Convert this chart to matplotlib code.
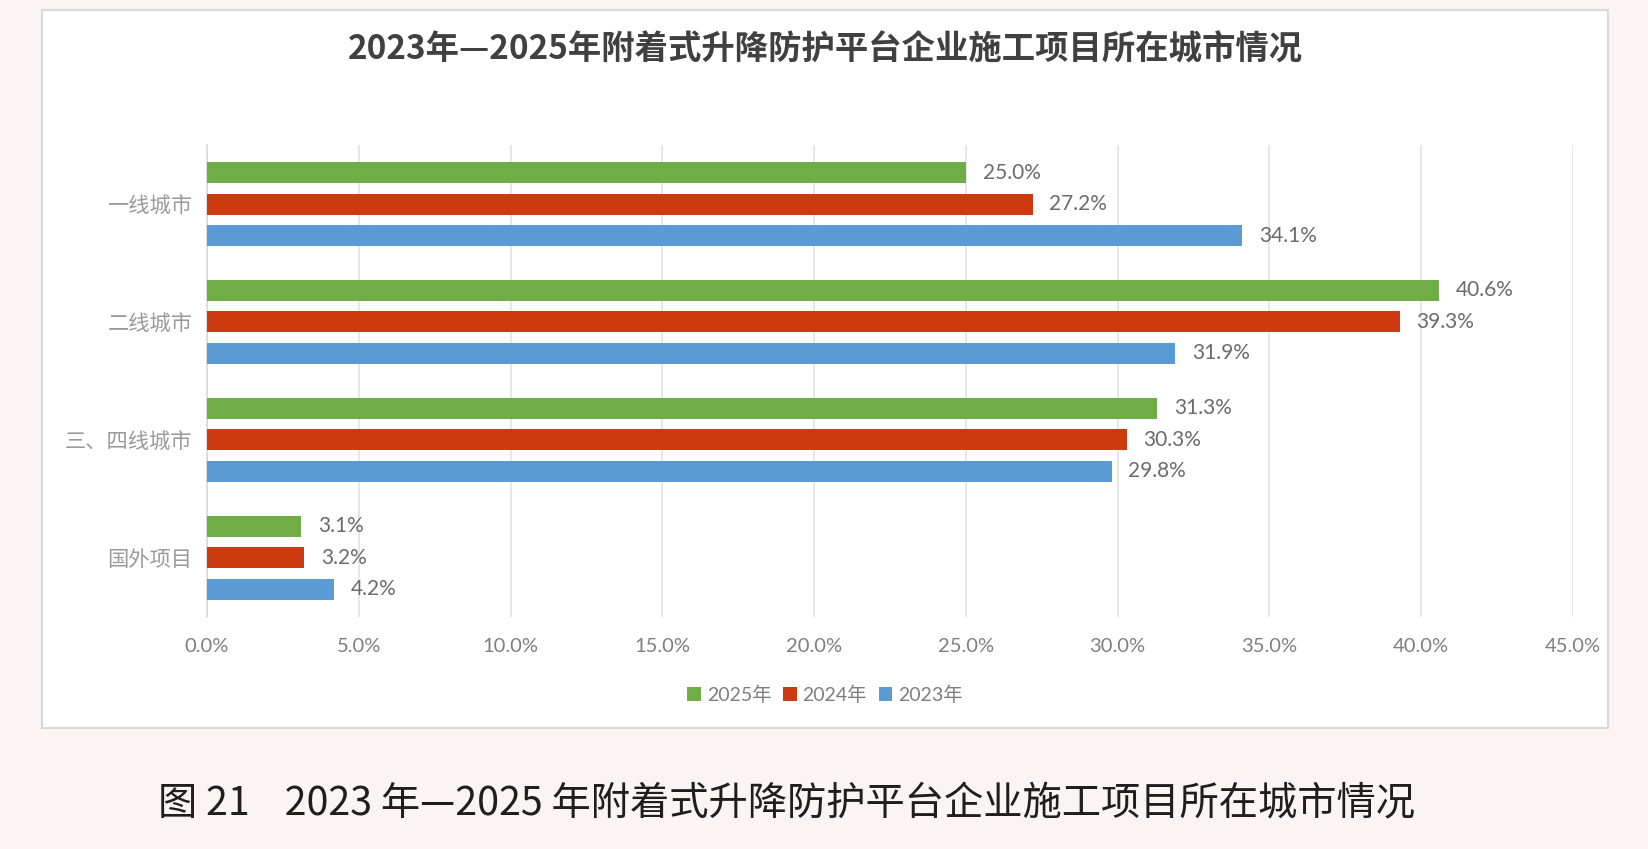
import matplotlib
matplotlib.use("Agg")
import matplotlib.pyplot as plt
from matplotlib.patches import Rectangle
import numpy as np

plt.rcParams['font.family'] = ['Noto Sans CJK SC', 'DejaVu Sans']

# --- datos ---
categorias = ['一线城市', '二线城市', '三、四线城市', '国外项目']
series = ['2025年', '2024年', '2023年']
v2025 = [25.0, 40.6, 31.3, 3.1]
v2024 = [27.2, 39.3, 30.3, 3.2]
v2023 = [34.1, 31.9, 29.8, 4.2]
colores = ['#70AD47', '#CD3A10', '#5B9BD5']
xticks = [0, 5, 10, 15, 20, 25, 30, 35, 40, 45]

titulo = '2023年—2025年附着式升降防护平台企业施工项目所在城市情况'
pie = '图 21    2023 年—2025 年附着式升降防护平台企业施工项目所在城市情况'

fig = plt.figure(figsize=(16.48, 8.49), dpi=100)
fig.patch.set_facecolor('#faf4f4')

# caja blanca del grafico (detras de los ejes)
caja = Rectangle((0.0255, 0.1425), 0.9502, 0.8455, transform=fig.transFigure,
                 facecolor='white', edgecolor='#d9d9d9', linewidth=1.5, zorder=-10)
fig.add_artist(caja)

ax = fig.add_axes([0.1256, 0.2733, 0.8289, 0.5559])
ax.set_facecolor('white')

y = np.arange(len(categorias))
paso = 0.267
alto = 0.178
for k, (vals, nombre, col) in enumerate(zip([v2025, v2024, v2023], series, colores)):
    pos = y + (k - 1) * paso
    ax.barh(pos, vals, height=alto, color=col, label=nombre, zorder=3)
    for p, v in zip(pos, vals):
        ax.annotate(f'{v:.1f}%', (v, p), xytext=(12, 0), textcoords='offset points',
                    va='center', ha='left', fontsize=15, color='#6b6b6b',
                    family=['Lato', 'DejaVu Sans'])

ax.set_xlim(0, 45)
ax.set_ylim(3.5, -0.5)
ax.set_xticks(xticks)
ax.set_xticklabels([f'{t:.1f}%' for t in xticks], family=['Lato', 'DejaVu Sans'],
                   fontsize=14.5, color='#7f7f7f')
ax.set_yticks(y)
ax.set_yticklabels(categorias, fontsize=15.3, color='#9a9a9a', fontweight='light')
ax.tick_params(length=0)
ax.tick_params(axis='x', pad=15)
ax.tick_params(axis='y', pad=10.5)
ax.grid(axis='x', color='#e3e3e3', linewidth=1.2, zorder=0)
for s in ['top', 'right', 'bottom']:
    ax.spines[s].set_visible(False)
ax.spines['left'].set_color('#d9d9d9')
ax.spines['left'].set_linewidth(1.2)

leg = ax.legend(loc='center', bbox_to_anchor=(0.4525, -0.165), ncol=3, frameon=False,
                prop={'family': ['Lato', 'Noto Sans CJK SC'], 'size': 14},
                handlelength=0.7, handleheight=0.7, handletextpad=0.3,
                columnspacing=0.6)
for t in leg.get_texts():
    t.set_color('#7f7f7f')

fig.text(0.5006, 0.941, titulo, ha='center', va='center', fontsize=24,
         fontweight='bold', color='#404040')
fig.text(0.0959, 0.053, pie, ha='left', va='center', fontsize=28.3,
         fontweight='medium', color='#1e1e1e')

fig.savefig('out.png', dpi=100, facecolor=fig.get_facecolor())
